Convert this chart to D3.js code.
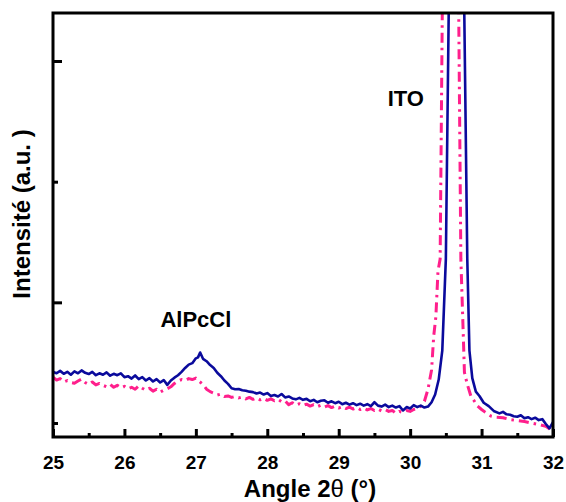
<!DOCTYPE html>
<html>
<head>
<meta charset="utf-8">
<script src="https://cdn.jsdelivr.net/npm/d3@7"></script>
<style>
  html, body { margin: 0; padding: 0; background: #fff; }
  svg { display: block; }
  text { font-family: "Liberation Sans", Arial, sans-serif; font-weight: bold; fill: #000; }
</style>
</head>
<body>
<script>
// ---- data ----
const xTickValues = [25, 26, 27, 28, 29, 30, 31, 32];
const xMinorTicks = [25.5, 26.5, 27.5, 28.5, 29.5, 30.5, 31.5];
const yMajorTicks = [1000, 2000];
const yMinorTicks = [500, 1500];
const xDomain = [25, 32];
const yDomain = [442, 2199];

// blue solid curve
const blueX = [25.00,25.05,25.10,25.15,25.20,25.25,25.30,25.35,25.40,25.45,25.50,25.55,25.60,25.65,25.70,25.75,25.80,25.85,25.90,25.95,
  26.00,26.05,26.10,26.15,26.20,26.25,26.30,26.35,26.40,26.45,26.50,26.55,26.60,26.65,26.70,26.75,26.80,26.85,26.90,26.95,
  27.00,27.03,27.06,27.10,27.15,27.20,27.25,27.30,27.35,27.40,27.45,27.50,27.55,27.60,27.65,27.70,27.75,27.80,27.85,27.90,27.95,
  28.00,28.05,28.10,28.15,28.20,28.25,28.30,28.35,28.40,28.45,28.50,28.55,28.60,28.65,28.70,28.75,28.80,28.85,28.90,28.95,
  29.00,29.05,29.10,29.15,29.20,29.25,29.30,29.35,29.40,29.45,29.50,29.55,29.60,29.65,29.70,29.75,29.80,29.85,29.90,29.95,
  30.00,30.05,30.10,30.15,30.20,30.25,30.30,30.35,30.40,30.45,30.50,30.54,30.58,30.65,30.71,30.76,30.80,30.83,30.87,30.92,30.97,
  31.03,31.10,31.17,31.25,31.30,31.35,31.40,31.45,31.50,31.55,31.60,31.65,31.70,31.75,31.80,31.85,31.90,31.95,32.00];
const blueY = [712,706,716,704,712,700,714,706,718,708,703,712,698,706,700,710,696,704,698,706,
  690,694,684,697,682,690,676,686,672,682,668,678,658,676,688,698,712,728,742,748,
  768,772,792,766,756,740,728,708,694,676,662,644,640,641,636,634,630,628,622,626,618,
  624,612,616,610,620,606,610,602,598,604,596,600,590,596,586,592,594,584,590,582,
  588,578,584,576,582,574,580,572,578,570,586,572,568,576,566,572,564,570,552,566,
  560,574,566,572,564,568,586,618,680,800,1180,2202,3400,4200,3400,2150,1180,800,686,630,612,
  584,570,550,540,546,536,534,528,526,532,520,524,516,522,512,516,496,478,504];

// pink dash-dot curve
const pinkX = [25.00,25.05,25.10,25.15,25.20,25.25,25.30,25.35,25.40,25.45,25.50,25.55,25.60,25.65,25.70,25.75,25.80,25.85,25.90,25.95,
  26.00,26.05,26.10,26.15,26.20,26.25,26.30,26.35,26.40,26.45,26.50,26.55,26.60,26.65,26.70,26.75,26.80,26.85,26.90,26.95,
  27.00,27.05,27.10,27.15,27.20,27.25,27.30,27.35,27.40,27.45,27.50,27.55,27.60,27.65,27.70,27.75,27.80,27.85,27.90,27.95,
  28.00,28.05,28.10,28.15,28.20,28.25,28.30,28.35,28.40,28.45,28.50,28.55,28.60,28.65,28.70,28.75,28.80,28.85,28.90,28.95,
  29.00,29.05,29.10,29.15,29.20,29.25,29.30,29.35,29.40,29.45,29.50,29.55,29.60,29.65,29.70,29.75,29.80,29.85,29.90,29.95,
  30.00,30.05,30.10,30.15,30.20,30.25,30.30,30.33,30.36,30.39,30.42,30.45,30.50,30.57,30.64,30.68,30.71,30.74,30.76,30.80,30.85,30.90,30.94,
  31.00,31.05,31.13,31.20,31.30,31.40,31.50,31.60,31.70,31.80,31.90,31.95,32.00];
const pinkY = [690,678,684,670,676,668,665,674,682,668,660,670,658,664,656,650,660,648,656,646,
  652,642,648,640,654,644,636,644,632,640,628,636,642,650,664,674,680,676,684,680,
  686,672,660,640,630,624,616,620,610,612,606,610,604,608,600,606,598,604,596,602,
  594,600,592,598,588,592,576,584,574,580,572,578,570,576,568,574,566,572,564,570,
  562,568,560,566,558,564,556,562,554,560,552,558,550,556,548,552,540,548,544,552,
  548,556,560,570,590,640,720,860,940,1130,1180,2202,3500,4300,3500,2202,1180,900,710,660,612,590,571,
  556,545,529,524,522,514,510,506,500,494,486,476,459];

const labelsText = [
  {text: "AlPcCl", x: 27.0, y: 898},
  {text: "ITO", x: 29.94, y: 1812}
];

// ---- layout ----
const W = 566, H = 502;
const margin = {left: 53, top: 13, right: 13, bottom: 65};
const plotW = W - margin.left - margin.right;   // 500
const plotH = H - margin.top - margin.bottom;   // 424

const svg = d3.select("body").append("svg").attr("width", W).attr("height", H);

const x = d3.scaleLinear().domain(xDomain).range([margin.left, margin.left + plotW]);
const y = d3.scaleLinear().domain(yDomain).range([margin.top + plotH, margin.top]);

svg.append("defs").append("clipPath").attr("id", "clip")
  .append("rect").attr("x", margin.left).attr("y", margin.top)
  .attr("width", plotW).attr("height", plotH);

const line = d3.line().x(d => x(d[0])).y(d => y(d[1]));
const pinkData = pinkX.map((v, i) => [v, pinkY[i]]);
const blueData = blueX.map((v, i) => [v, blueY[i]]);

const g = svg.append("g").attr("clip-path", "url(#clip)");
g.append("path").datum(pinkData).attr("d", line)
  .attr("fill", "none").attr("stroke", "#ff1f8c").attr("stroke-width", 3)
  .attr("stroke-dasharray", "10,5,2.5,5").attr("stroke-linejoin", "round");
g.append("path").datum(blueData).attr("d", line)
  .attr("fill", "none").attr("stroke", "#0a0a9c").attr("stroke-width", 2.6)
  .attr("stroke-linejoin", "round");

// axes (ticks pointing inward)
const bottom = margin.top + plotH;
const xAxis = d3.axisBottom(x).tickValues(xTickValues).tickSize(-8).tickPadding(19).tickFormat(d3.format("d"));
const gx = svg.append("g").attr("transform", `translate(0,${bottom})`).call(xAxis);
gx.select(".domain").remove();
gx.selectAll(".tick line").attr("stroke", "#000").attr("stroke-width", 3);
gx.selectAll(".tick text").attr("font-size", 19).attr("font-family", "Liberation Sans, Arial, sans-serif").attr("font-weight", "bold").attr("fill", "#000");

const xMinor = d3.axisBottom(x).tickValues(xMinorTicks).tickSize(-4).tickFormat("");
const gxm = svg.append("g").attr("transform", `translate(0,${bottom})`).call(xMinor);
gxm.select(".domain").remove();
gxm.selectAll(".tick line").attr("stroke", "#000").attr("stroke-width", 3);

const yAxis = d3.axisLeft(y).tickValues(yMajorTicks).tickSize(-9).tickFormat("");
const gy = svg.append("g").attr("transform", `translate(${margin.left},0)`).call(yAxis);
gy.select(".domain").remove();
gy.selectAll(".tick line").attr("stroke", "#000").attr("stroke-width", 3);

const yMinor = d3.axisLeft(y).tickValues(yMinorTicks).tickSize(-5).tickFormat("");
const gym = svg.append("g").attr("transform", `translate(${margin.left},0)`).call(yMinor);
gym.select(".domain").remove();
gym.selectAll(".tick line").attr("stroke", "#000").attr("stroke-width", 3);

// frame
svg.append("rect").attr("x", margin.left).attr("y", margin.top)
  .attr("width", plotW).attr("height", plotH)
  .attr("fill", "none").attr("stroke", "#000").attr("stroke-width", 3);

// annotations
svg.selectAll("text.lbl").data(labelsText).enter().append("text")
  .attr("class", "lbl")
  .attr("x", d => x(d.x)).attr("y", d => y(d.y))
  .attr("text-anchor", "middle").attr("font-size", 22)
  .text(d => d.text);

// axis titles
const xt = svg.append("text").attr("x", 310).attr("y", 497)
  .attr("text-anchor", "middle").attr("font-size", 24);
xt.append("tspan").text("Angle 2");
xt.append("tspan").attr("font-weight", "normal").text("θ");
xt.append("tspan").text(" (°)");

svg.append("text")
  .attr("transform", "translate(30,214) rotate(-90)")
  .attr("text-anchor", "middle").attr("font-size", 24)
  .text("Intensité (a.u. )");
</script>
</body>
</html>
